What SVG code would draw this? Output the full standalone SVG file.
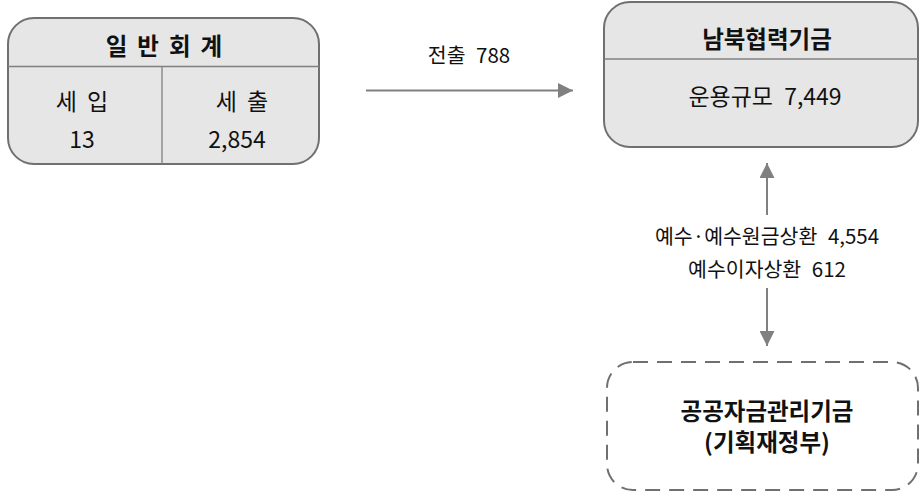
<svg xmlns="http://www.w3.org/2000/svg" width="921" height="492" viewBox="0 0 921 492">
  <style>
    text { font-family: "Noto Sans CJK KR", "Noto Sans", sans-serif; fill: #111; text-anchor: middle; }
    .t { font-size: 23.5px; font-weight: bold; }
    .v { font-size: 23px; word-spacing: 6px; }
    .lbl { font-size: 20.5px; word-spacing: 6px; }
    .box { fill: #e6e6e6; stroke: #707070; stroke-width: 2; }
    .dash { fill: #ffffff; stroke: #707070; stroke-width: 2; stroke-dasharray: 15 9; }
    .div { stroke: #808080; stroke-width: 1.3; fill: none; }
    .conn { stroke: #808080; stroke-width: 2; fill: none; }
  </style>
  <defs>
    <marker id="head" viewBox="0 0 10 10" refX="10" refY="5" markerWidth="16" markerHeight="15" markerUnits="userSpaceOnUse" orient="auto">
      <path d="M0,0 L10,5 L0,10 Z" fill="#808080"/>
    </marker>
  </defs>

  <g id="general-account">
    <rect class="box" x="8" y="18" width="311" height="146" rx="26" ry="26"/>
    <line class="div" x1="8" y1="66.5" x2="319" y2="66.5"/>
    <line class="div" x1="162" y1="66.5" x2="162" y2="164"/>
    <text class="t" x="169" y="55" letter-spacing="10">일반회계</text>
    <text class="v" x="87" y="110" letter-spacing="10">세입</text>
    <text class="v" x="82" y="148">13</text>
    <text class="v" x="247" y="110" letter-spacing="10">세출</text>
    <text class="v" x="237" y="148">2,854</text>
  </g>

  <g id="inter-korean-fund">
    <rect class="box" x="604" y="2" width="314" height="145" rx="26" ry="26"/>
    <line class="div" x1="604" y1="59" x2="918" y2="59"/>
    <text class="t" x="767" y="48">남북협력기금</text>
    <text class="v" x="765" y="105">운용규모 7,449</text>
  </g>

  <g id="public-capital-fund">
    <rect class="dash" x="607" y="362" width="311" height="128" rx="26" ry="26"/>
    <text class="t" x="767" y="420">공공자금관리기금</text>
    <text class="t" x="767" y="451">(기획재정부)</text>
  </g>

  <g id="connectors">
    <line class="conn" x1="366" y1="90.5" x2="573" y2="90.5" marker-end="url(#head)"/>
    <text class="lbl" x="469" y="63">전출 788</text>
    <line class="conn" x1="767" y1="215" x2="767" y2="163" marker-end="url(#head)"/>
    <line class="conn" x1="767" y1="288" x2="767" y2="346" marker-end="url(#head)"/>
    <text class="lbl" x="767" y="243.5">예수·예수원금상환 4,554</text>
    <text class="lbl" x="767" y="276.5">예수이자상환 612</text>
  </g>
</svg>
